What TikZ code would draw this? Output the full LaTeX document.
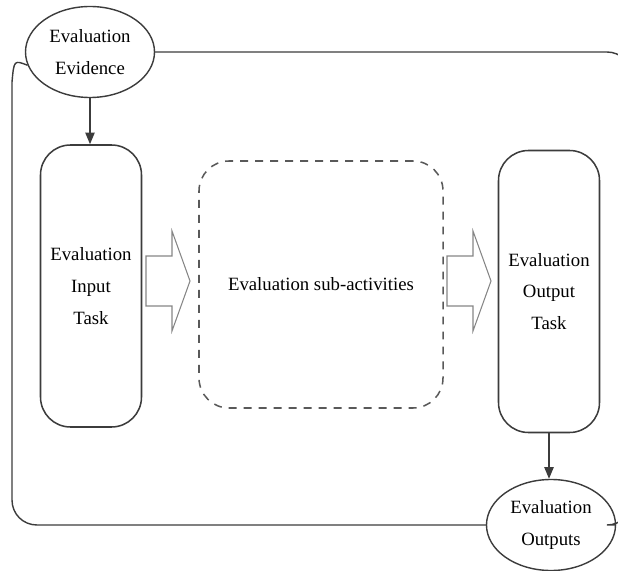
\documentclass[tikz,border=0pt]{standalone}
\usepackage{fontspec}
\setmainfont{Liberation Serif}
\usetikzlibrary{arrows.meta,shapes.geometric}

\definecolor{linegray}{HTML}{3C3C3C}
\definecolor{arrgray}{HTML}{858585}
\newcommand\evalfont{\fontsize{16}{27}\selectfont}

\tikzset{
  evalellipse/.style={ellipse,draw=linegray,line width=1.2pt,minimum width=3.87cm,minimum height=2.73cm,inner sep=2pt,align=center,font=\evalfont},
  taskbox/.style={draw=linegray,line width=1.3pt,rounded corners=0.9cm,minimum width=3.03cm,minimum height=8.46cm,align=center,font=\evalfont},
  subbox/.style={draw=linegray!85,line width=1.3pt,dash pattern=on 6.8pt off 6pt,rounded corners=0.9cm,minimum width=7.32cm,minimum height=7.41cm,font=\evalfont},
  blockarr/.style={draw=arrgray,line width=0.9pt,line join=miter},
  flowarr/.style={draw=linegray,line width=1.2pt,-{Triangle[length=10pt,width=8pt]}},
  loopline/.style={draw=linegray,line width=1.2pt}
}

\begin{document}
\begin{tikzpicture}[x=0.03cm,y=-0.03cm]
\useasboundingbox (0,0) rectangle (618,571);

\node[evalellipse] (ev) at (90,52) {Evaluation\\Evidence};
\node[evalellipse] (outev) at (551,525) {Evaluation\\Outputs};

\node[taskbox] (intask) at (91,286) {Evaluation\\Input\\Task};
\node[subbox] (subact) at (321,284.5) {Evaluation sub-activities};
\node[taskbox] (outtask) at (549,291.5) {Evaluation\\Output\\Task};

% loop round the whole activity
\draw[loopline] (ev.192) .. controls (14,60) .. (12,82) -- (12,500)
  .. controls (12,514) and (23,525) .. (37,525) -- (outev.west);
\draw[loopline,rounded corners=0.75cm] (ev.east) -- (632,52) -- (632,525) -- (outev.east);

\draw[flowarr] (ev.south) -- (ev.south |- intask.north);
\draw[flowarr] (outtask.south) -- (outtask.south |- outev.north);

% block arrows
\foreach \ax in {146,447}
  \draw[blockarr] (\ax,256) -- ++(26,0) -- ++(0,-25) -- ++(18,50) -- ++(-18,50) -- ++(0,-25) -- ++(-26,0) -- cycle;

\end{tikzpicture}
\end{document}
